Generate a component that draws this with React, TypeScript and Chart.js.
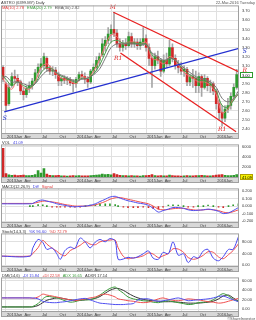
import React, { useEffect, useRef } from 'react';
import { Chart, registerables } from 'chart.js';
Chart.register(...registerables);

const FONT = '"Liberation Sans", "DejaVu Sans", Arial, sans-serif';

// ---- time axis (months since 2013-01) ----
const X_MIN = -0.85;
const X_MAX = 39.9;
const quarterT = [0, 3, 6, 9, 12, 15, 18, 21, 24, 27, 30, 33, 36];
const quarterLabels = ['2013Jan', 'Apr', 'Jul', 'Oct', '2014Jan', 'Apr', 'Jul', 'Oct', '2015Jan', 'Apr', 'Jul', 'Oct', '2016Jan'];

// ---- price candles (half-month) ----
const candleT = [-0.5, 0, 0.5, 1, 1.5, 2, 2.5, 3, 3.5, 4, 4.5, 5, 5.5, 6, 6.5, 7, 7.5, 8, 8.5, 9, 9.5, 10, 10.5, 11, 11.5, 12, 12.5, 13, 13.5, 14, 14.5, 15, 15.5, 16, 16.5, 17, 17.5, 18, 18.5, 19, 19.5, 20, 20.5, 21, 21.5, 22, 22.5, 23, 23.5, 24, 24.5, 25, 25.5, 26, 26.5, 27, 27.5, 28, 28.5, 29, 29.5, 30, 30.5, 31, 31.5, 32, 32.5, 33, 33.5, 34, 34.5, 35, 35.5, 36, 36.5, 37, 37.5, 38, 38.5, 39, 39.5];
const opens = [3.08, 2.90, 2.68, 2.88, 2.98, 2.96, 2.92, 2.82, 2.78, 2.85, 2.88, 2.93, 3.02, 3.08, 3.10, 3.18, 3.07, 3.04, 3.05, 3.00, 2.93, 2.96, 2.94, 2.95, 2.91, 2.90, 2.95, 3.00, 2.98, 2.95, 2.92, 3.04, 3.08, 3.16, 3.22, 3.32, 3.38, 3.45, 3.50, 3.46, 3.34, 3.30, 3.34, 3.32, 3.42, 3.34, 3.36, 3.32, 3.36, 3.40, 3.30, 3.18, 3.10, 3.20, 3.16, 3.04, 3.16, 3.12, 3.30, 3.18, 3.10, 3.08, 3.04, 3.06, 2.92, 2.98, 2.96, 2.88, 2.98, 2.86, 2.96, 2.88, 2.90, 2.82, 2.68, 2.58, 2.52, 2.62, 2.66, 2.76, 2.86];
const highs = [3.10, 2.92, 2.90, 3.02, 3.05, 3.00, 2.94, 2.86, 2.88, 2.92, 2.96, 3.06, 3.12, 3.18, 3.24, 3.20, 3.10, 3.09, 3.08, 3.03, 2.98, 2.99, 2.98, 2.97, 2.95, 2.97, 3.03, 3.04, 3.02, 2.98, 3.06, 3.12, 3.20, 3.24, 3.40, 3.42, 3.52, 3.55, 3.69, 3.50, 3.40, 3.38, 3.40, 3.47, 3.46, 3.40, 3.40, 3.40, 3.52, 3.44, 3.34, 3.22, 3.24, 3.26, 3.18, 3.22, 3.24, 3.38, 3.34, 3.22, 3.16, 3.14, 3.10, 3.08, 3.00, 3.06, 3.04, 3.02, 3.00, 3.00, 2.98, 2.94, 2.92, 2.84, 2.72, 2.66, 2.66, 2.74, 2.80, 2.90, 3.06];
const lows = [2.92, 2.60, 2.66, 2.86, 2.92, 2.88, 2.78, 2.72, 2.75, 2.80, 2.84, 2.90, 2.98, 3.02, 3.06, 3.04, 3.00, 2.99, 2.96, 2.88, 2.88, 2.90, 2.89, 2.88, 2.81, 2.86, 2.93, 2.95, 2.90, 2.86, 2.90, 3.00, 3.05, 3.10, 3.20, 3.26, 3.34, 3.36, 3.42, 3.30, 3.26, 3.26, 3.28, 3.30, 3.30, 3.30, 3.28, 3.28, 3.32, 3.26, 3.10, 2.86, 3.06, 3.12, 2.98, 3.02, 3.08, 3.10, 3.14, 3.06, 3.02, 3.00, 2.98, 2.88, 2.88, 2.86, 2.80, 2.80, 2.76, 2.84, 2.82, 2.80, 2.78, 2.62, 2.50, 2.43, 2.48, 2.58, 2.62, 2.72, 2.84];
const closes = [2.95, 2.66, 2.86, 2.98, 2.96, 2.92, 2.82, 2.78, 2.85, 2.88, 2.93, 3.02, 3.08, 3.12, 3.20, 3.07, 3.04, 3.05, 3.00, 2.93, 2.96, 2.94, 2.95, 2.91, 2.90, 2.95, 3.00, 2.98, 2.95, 2.92, 3.04, 3.08, 3.16, 3.20, 3.34, 3.38, 3.45, 3.50, 3.46, 3.34, 3.30, 3.34, 3.32, 3.42, 3.34, 3.36, 3.32, 3.36, 3.40, 3.30, 3.18, 3.10, 3.20, 3.16, 3.04, 3.16, 3.12, 3.30, 3.18, 3.10, 3.08, 3.04, 3.06, 2.92, 2.98, 2.96, 2.88, 2.98, 2.86, 2.96, 2.88, 2.90, 2.82, 2.68, 2.58, 2.52, 2.62, 2.66, 2.76, 2.86, 3.00];
const volumes = [5700, 700, 450, 350, 400, 300, 350, 400, 300, 300, 350, 500, 1300, 800, 1700, 600, 350, 300, 300, 350, 250, 250, 200, 250, 300, 250, 300, 250, 250, 250, 300, 350, 400, 450, 600, 500, 550, 450, 700, 500, 350, 300, 300, 250, 300, 250, 250, 200, 300, 300, 350, 500, 300, 250, 300, 250, 250, 400, 300, 250, 250, 200, 250, 300, 250, 250, 300, 300, 350, 300, 250, 250, 300, 400, 450, 500, 350, 300, 300, 350, 500];

// ---- moving averages (monthly) ----
const maT = [-0.8, 0, 1, 2, 3, 4, 5, 6, 7, 8, 9, 10, 11, 12, 13, 14, 15, 16, 17, 18, 19, 20, 21, 22, 23, 24, 25, 26, 27, 28, 29, 30, 31, 32, 33, 34, 35, 36, 37, 38, 39, 39.8];
const ma10 = [3.00, 2.90, 2.84, 2.95, 2.86, 2.84, 2.92, 3.08, 3.12, 3.06, 2.98, 2.95, 2.93, 2.90, 2.98, 2.96, 3.04, 3.16, 3.32, 3.44, 3.42, 3.34, 3.36, 3.36, 3.34, 3.36, 3.18, 3.16, 3.12, 3.20, 3.16, 3.06, 3.00, 2.96, 2.92, 2.92, 2.88, 2.78, 2.58, 2.62, 2.74, 2.78];
const ema20 = [3.00, 2.95, 2.88, 2.92, 2.88, 2.86, 2.90, 3.02, 3.08, 3.06, 3.00, 2.97, 2.94, 2.92, 2.96, 2.96, 3.01, 3.10, 3.24, 3.36, 3.38, 3.35, 3.35, 3.35, 3.34, 3.34, 3.22, 3.18, 3.14, 3.18, 3.16, 3.08, 3.02, 2.98, 2.94, 2.93, 2.90, 2.82, 2.66, 2.64, 2.72, 2.79];
const ema30 = [2.95, 2.98, 2.92, 2.92, 2.90, 2.88, 2.90, 2.98, 3.04, 3.05, 3.01, 2.98, 2.95, 2.93, 2.95, 2.96, 3.00, 3.06, 3.18, 3.30, 3.34, 3.34, 3.34, 3.34, 3.33, 3.33, 3.24, 3.20, 3.16, 3.18, 3.16, 3.10, 3.05, 3.00, 2.96, 2.95, 2.92, 2.86, 2.74, 2.70, 2.74, 2.82];

// ---- trend lines ----
const upperChannelT = [18.4, 39.9];
const upperChannelP = [3.69, 3.03];
const lowerChannelT = [19.6, 39.4];
const lowerChannelP = [3.24, 2.37];
const supportT = [-0.3, 39.9];
const supportP = [2.59, 3.29];
const noteText = ['M', 'R1', 'S', 'R', 'S', 'R1'];
const noteT = [18.3, 19.2, -0.2, 40.9, 40.9, 37.0];
const noteP = [3.745, 3.175, 2.52, 3.045, 3.26, 2.39];
const noteColor = ['#e02020', '#e02020', '#2233cc', '#e02020', '#2233cc', '#e02020'];

// ---- indicators ----
const indT = [-1.0, 4.1, 4.6, 5.5, 6.3, 7.0, 7.9, 8.7, 9.3, 10.1, 11.0, 11.8, 12.7, 13.6, 14.4, 15.3, 16.1, 17.0, 17.8, 18.7, 19.2, 20.1, 20.9, 21.8, 22.6, 23.5, 24.4, 25.2, 26.1, 26.9, 27.8, 28.6, 29.5, 30.4, 31.2, 32.1, 32.9, 33.8, 34.6, 35.5, 36.4, 37.2, 38.1, 38.9, 39.8];
const macdDiff = [0.03, 0.03, 0.035, 0.07, 0.08, 0.065, 0.05, 0.03, 0.02, 0.01, -0.005, -0.01, -0.005, 0, 0.01, 0.03, 0.06, 0.09, 0.12, 0.13, 0.115, 0.09, 0.07, 0.055, 0.04, 0.03, 0.01, -0.03, -0.08, -0.06, -0.04, -0.02, -0.02, -0.03, -0.05, -0.06, -0.055, -0.05, -0.04, -0.05, -0.07, -0.10, -0.09, -0.06, -0.02];
const macdSignal = [0.035, 0.035, 0.035, 0.05, 0.065, 0.065, 0.055, 0.045, 0.035, 0.02, 0.01, 0, 0, 0, 0.005, 0.015, 0.035, 0.06, 0.09, 0.11, 0.115, 0.105, 0.09, 0.075, 0.06, 0.045, 0.03, 0, -0.04, -0.05, -0.045, -0.035, -0.03, -0.03, -0.04, -0.05, -0.055, -0.05, -0.045, -0.05, -0.06, -0.08, -0.09, -0.075, -0.05];
const macdHist = [0, 0, 0, 0.02, 0.015, 0, -0.005, -0.015, -0.015, -0.01, -0.015, -0.01, -0.005, 0, 0.005, 0.015, 0.025, 0.03, 0.03, 0.02, 0, -0.015, -0.02, -0.02, -0.02, -0.015, -0.02, -0.03, -0.04, -0.01, 0.005, 0.015, 0.01, 0, -0.01, -0.01, 0, 0, 0.005, 0, -0.01, -0.02, 0, 0.015, 0.03];
const stochK = [31, 31, 59, 88, 78, 54, 59, 39, 20, 50, 62, 57, 93, 79, 59, 79, 88, 80, 91, 83, 20, 21, 27, 24, 29, 39, 49, 24, 20, 44, 39, 80, 34, 39, 9, 29, 24, 49, 54, 24, 15, 29, 54, 54, 97];
const stochD = [31, 31, 40, 60, 85, 72, 58, 48, 38, 32, 50, 58, 68, 80, 72, 70, 80, 84, 86, 86, 60, 30, 22, 25, 27, 32, 42, 38, 26, 32, 40, 56, 55, 44, 26, 20, 24, 34, 46, 44, 28, 22, 36, 50, 73];
const minusDI = [24, 24, 24, 22, 17, 15, 14, 14, 15, 16, 18, 20, 22, 23, 20, 16, 13, 12, 11, 10, 10, 10, 11, 12, 20, 22, 22, 19, 17, 18, 20, 22, 24, 21, 18, 19, 20, 21, 22, 24, 27, 28, 24, 20, 16];
const plusDI = [24, 24, 23, 26, 32, 30, 28, 26, 24, 22, 20, 18, 20, 22, 24, 26, 30, 32, 30, 26, 22, 20, 18, 17, 15, 14, 15, 18, 22, 24, 21, 19, 18, 20, 22, 21, 20, 18, 16, 15, 13, 14, 17, 20, 23];
const adx = [5, 5, 6, 12, 22, 27, 26, 24, 22, 18, 15, 16, 19, 20, 20, 24, 30, 38, 44, 47, 42, 34, 26, 22, 20, 18, 17, 15, 14, 16, 18, 16, 14, 12, 10, 11, 14, 15, 16, 20, 28, 33, 28, 21, 17];
const adxr = [5, 5, 5, 8, 14, 19, 22, 24, 24, 22, 20, 19, 19, 20, 21, 23, 27, 34, 40, 44, 44, 40, 34, 28, 24, 21, 19, 18, 17, 16, 16, 16, 15, 14, 13, 13, 13, 14, 15, 17, 22, 28, 30, 24, 17];

// ---- axis ticks ----
const priceTicks = [2.4, 2.5, 2.6, 2.7, 2.8, 2.9, 3.0, 3.1, 3.2, 3.3, 3.4, 3.5, 3.6, 3.7];
const volTicks = [2000, 4000, 6000];
const macdTicks = [-0.2, -0.1, 0, 0.1, 0.2];
const stochTicks = [0, 20, 40, 60, 80, 100];
const dmiTicks = [0, 20, 40, 60];

const UP = '#2e9a2e';
const DOWN = '#d02828';
const WICK = '#a6a6a6';
const GRID = '#e0e0e0';
const STRIP = 6;
const FS = 4;

const pts = (xs: number[], ys: number[]) => xs.map((x, i) => ({ x, y: ys[i] }));

const framePlugin = {
  id: 'frame',
  beforeDraw(chart: any) {
    const { ctx, chartArea: a, scales } = chart;
    const x = scales.x;
    ctx.save();
    ctx.fillStyle = '#d8d8d8';
    ctx.fillRect(a.left, x.top, a.right - a.left, x.bottom - x.top);
    ctx.restore();
  },
  afterDraw(chart: any) {
    const { ctx, chartArea: a, scales } = chart;
    const x = scales.x;
    ctx.save();
    ctx.strokeStyle = '#a0a0a0';
    ctx.lineWidth = 1;
    ctx.strokeRect(a.left + 0.5, a.top + 0.5, a.right - a.left - 1, x.bottom - a.top - 1);
    ctx.beginPath();
    ctx.moveTo(a.left, Math.round(a.bottom) + 0.5);
    ctx.lineTo(a.right, Math.round(a.bottom) + 0.5);
    ctx.stroke();
    ctx.restore();
  },
};

const notesPlugin = {
  id: 'notes',
  afterDatasetsDraw(chart: any) {
    const { ctx, scales } = chart;
    ctx.save();
    ctx.font = 'italic 6px "DejaVu Serif", serif';
    ctx.textAlign = 'center';
    ctx.textBaseline = 'middle';
    noteText.forEach((t, i) => {
      ctx.fillStyle = noteColor[i];
      ctx.fillText(t, scales.x.getPixelForValue(noteT[i]), scales.y.getPixelForValue(noteP[i]));
    });
    ctx.restore();
  },
};

const markerPlugin = {
  id: 'marker',
  afterDraw(chart: any, _args: any, opts: any) {
    if (!opts || opts.value === undefined) return;
    const { ctx, chartArea: a, scales } = chart;
    const y = Math.round(scales.y.getPixelForValue(opts.value));
    ctx.save();
    ctx.fillStyle = opts.fill;
    ctx.strokeStyle = opts.stroke;
    ctx.fillRect(a.right + 1, y - 3, 13, 6);
    ctx.strokeRect(a.right + 1.5, y - 2.5, 12, 5);
    ctx.fillStyle = opts.color;
    ctx.font = `${FS}px ${FONT}`;
    ctx.textAlign = 'left';
    ctx.textBaseline = 'middle';
    ctx.fillText(opts.text, a.right + 3, y + 0.5);
    ctx.restore();
  },
};

function baseOptions(yMin: number, yMax: number, yTicks: number[], fmt: (v: number) => string, padTop: number, marker?: any) {
  return {
    responsive: false,
    maintainAspectRatio: false,
    animation: false,
    devicePixelRatio: 1,
    layout: { padding: { top: padTop, left: 1, right: 0, bottom: 0 } },
    plugins: { legend: { display: false }, tooltip: { enabled: false }, marker: marker || {} },
    elements: { point: { radius: 0 }, line: { borderWidth: 1 } },
    scales: {
      x: {
        type: 'linear', min: X_MIN, max: X_MAX, offset: false,
        afterBuildTicks: (s: any) => { s.ticks = quarterT.map((v) => ({ value: v })); },
        afterFit: (s: any) => { s.height = STRIP; },
        ticks: {
          autoSkip: false, maxRotation: 0, minRotation: 0, align: 'start', labelOffset: 1, padding: 1,
          font: { family: FONT, size: FS }, color: '#3a3a3a',
          callback: (_v: any, i: number) => quarterLabels[i],
        },
        grid: { color: GRID, lineWidth: 1, drawTicks: false, offset: false },
        border: { display: false },
      },
      y: {
        type: 'linear', position: 'right', min: yMin, max: yMax,
        afterBuildTicks: (s: any) => { s.ticks = yTicks.map((v) => ({ value: v })); },
        afterFit: (s: any) => { s.width = 17; },
        ticks: { font: { family: FONT, size: FS }, color: '#3a3a3a', padding: 3, callback: (v: any) => fmt(Number(v)) },
        grid: { color: GRID, lineWidth: 1, drawTicks: false },
        border: { display: false },
      },
    },
  };
}

function priceConfig(): any {
  const colors = closes.map((c, i) => (c >= opens[i] ? UP : DOWN));
  return {
    type: 'bar',
    data: {
      datasets: [
        { type: 'line', data: pts(upperChannelT, upperChannelP), borderColor: '#e82020', borderWidth: 1.3, pointRadius: 0, order: 0 },
        { type: 'line', data: pts(lowerChannelT, lowerChannelP), borderColor: '#e82020', borderWidth: 1.3, pointRadius: 0, order: 0 },
        { type: 'line', data: pts(supportT, supportP), borderColor: '#2430d0', borderWidth: 1.3, pointRadius: 0, order: 0 },
        { type: 'line', data: pts(maT, ema30), borderColor: '#777777', borderWidth: 1, pointRadius: 0, tension: 0.35, order: 1 },
        { type: 'line', data: pts(maT, ema20), borderColor: '#4a9a4a', borderWidth: 1, pointRadius: 0, tension: 0.35, order: 1 },
        { type: 'line', data: pts(maT, ma10), borderColor: '#f07070', borderWidth: 1, pointRadius: 0, tension: 0.35, order: 1 },
        { type: 'bar', data: candleT.map((t, i) => ({ x: t, y: [opens[i], closes[i]] })), backgroundColor: colors, barThickness: 2, minBarLength: 1, grouped: false, order: 2 },
        { type: 'bar', data: candleT.map((t, i) => ({ x: t, y: [lows[i], highs[i]] })), backgroundColor: WICK, barThickness: 1, grouped: false, order: 3 },
      ],
    },
    options: baseOptions(2.3557, 3.7656, priceTicks, (v) => v.toFixed(2), 4, { value: closes[closes.length - 1], text: '3.00', fill: '#ffffff', stroke: '#2e9a2e', color: '#000' }),
    plugins: [framePlugin, notesPlugin, markerPlugin],
  };
}

function volConfig(): any {
  const colors = closes.map((c, i) => (c >= opens[i] ? UP : DOWN));
  return {
    type: 'bar',
    data: { datasets: [{ data: candleT.map((t, i) => ({ x: t, y: volumes[i] })), backgroundColor: colors, barThickness: 2, grouped: false }] },
    options: baseOptions(0, 6500, volTicks, (v) => String(v), 0, { value: 0, text: '41.09', fill: '#f4f000', stroke: '#b0a000', color: '#000' }),
    plugins: [framePlugin, markerPlugin],
  };
}

function macdConfig(): any {
  return {
    type: 'bar',
    data: {
      datasets: [
        { type: 'line', data: pts(indT, macdDiff), borderColor: '#5050f0', borderWidth: 1, pointRadius: 0, tension: 0.3, order: 0 },
        { type: 'line', data: pts(indT, macdSignal), borderColor: '#f05050', borderWidth: 1, pointRadius: 0, tension: 0.3, order: 0 },
        { type: 'bar', data: pts(indT, macdHist), backgroundColor: macdHist.map((v) => (v >= 0 ? UP : DOWN)), barThickness: 1, minBarLength: 1, grouped: false, order: 1 },
      ],
    },
    options: baseOptions(-0.2114, 0.2343, macdTicks, (v) => v.toFixed(3), 0),
    plugins: [framePlugin],
  };
}

function stochConfig(): any {
  return {
    type: 'line',
    data: {
      datasets: [
        { data: pts(indT, stochK), borderColor: '#4848f0', borderWidth: 1, pointRadius: 0, tension: 0.3 },
        { data: pts(indT, stochD), borderColor: '#f05050', borderWidth: 1, pointRadius: 0, tension: 0.3 },
      ],
    },
    options: baseOptions(-2.9, 108.8, stochTicks, (v) => v.toFixed(2), 0),
    plugins: [framePlugin],
  };
}

function dmiConfig(): any {
  return {
    type: 'line',
    data: {
      datasets: [
        { data: pts(indT, minusDI), borderColor: '#5050f0', borderWidth: 1, pointRadius: 0, tension: 0.3 },
        { data: pts(indT, plusDI), borderColor: '#f05050', borderWidth: 1, pointRadius: 0, tension: 0.3 },
        { data: pts(indT, adx), borderColor: '#3a9a3a', borderWidth: 1, pointRadius: 0, tension: 0.3 },
        { data: pts(indT, adxr), borderColor: '#333333', borderWidth: 1, pointRadius: 0, tension: 0.3 },
      ],
    },
    options: baseOptions(-3.6, 67.3, dmiTicks, (v) => v.toFixed(2), 0),
    plugins: [framePlugin],
  };
}

function Panel({ top, height, make }: { top: number; height: number; make: () => any }) {
  const ref = useRef<HTMLCanvasElement>(null);
  useEffect(() => {
    const chart = new Chart(ref.current as HTMLCanvasElement, make());
    return () => chart.destroy();
  }, []);
  return <canvas ref={ref} width={256} height={height} style={{ position: 'absolute', left: 0, top, width: 256, height }} />;
}

function Txt({ x, y, parts, right }: { x: number; y: number; parts: [string, string][]; right?: boolean }) {
  return (
    <div style={{ position: 'absolute', top: y, ...(right ? { right: x } : { left: x }), fontFamily: FONT, fontSize: FS, lineHeight: '5px', whiteSpace: 'nowrap' }}>
      {parts.map(([t, c], i) => (
        <span key={i} style={{ color: c, marginRight: 3 }}>{t}</span>
      ))}
    </div>
  );
}

export default function App() {
  return (
    <div style={{ position: 'absolute', left: 0, top: 0, width: 256, height: 320, background: '#ffffff', overflow: 'hidden' }}>
      <Panel top={0} height={139} make={priceConfig} />
      <Panel top={139} height={44} make={volConfig} />
      <Panel top={183} height={45} make={macdConfig} />
      <Panel top={228} height={44} make={stochConfig} />
      <Panel top={272} height={45} make={dmiConfig} />
      <Txt x={1} y={0} parts={[['ASTRO (6399.MY) Daily', '#333']]} />
      <Txt x={-2} y={0} right parts={[['22-Mar-2016 Tuesday', '#555']]} />
      <Txt x={2} y={5} parts={[['MA(10) 2.78', '#e04040'], ['EMA(20) 2.79', '#3a9a3a'], ['EMA(30) 2.82', '#555']]} />
      <Txt x={2} y={140} parts={[['VOL', '#333'], ['41.09', '#4040e0']]} />
      <Txt x={2} y={184} parts={[['MACD(12,26,9)', '#333'], ['Diff', '#4040e0'], ['Signal', '#e04040']]} />
      <Txt x={2} y={229} parts={[['Stoch(14,3,3)', '#333'], ['%K 96.60', '#4040e0'], ['%D 72.79', '#e04040']]} />
      <Txt x={2} y={273} parts={[['DMI(14,6)', '#333'], ['-DI 15.84', '#4040e0'], ['+DI 22.58', '#e04040'], ['ADX 16.65', '#3a9a3a'], ['ADXR 17.14', '#333']]} />
      <Txt x={-2} y={316} right parts={[['©ShareInvestor', '#555']]} />
    </div>
  );
}
